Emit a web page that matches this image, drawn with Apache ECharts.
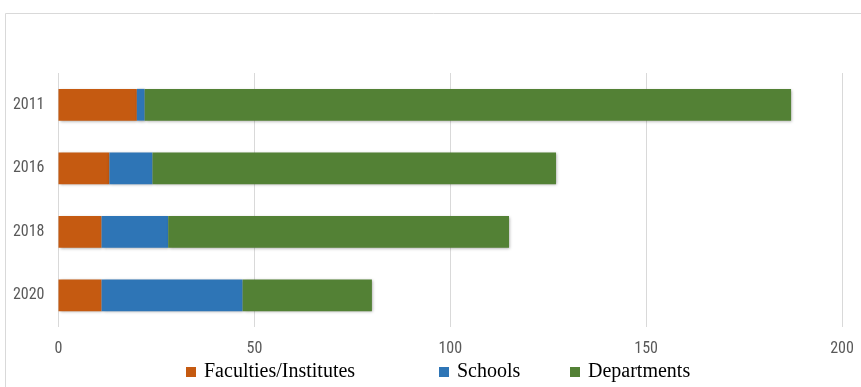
<!DOCTYPE html>
<html><head><meta charset="utf-8">
<script src="https://cdn.jsdelivr.net/npm/echarts@6/dist/echarts.min.js"></script>
<style>html,body{margin:0;padding:0;background:#fff}#c{width:861px;height:387px}</style>
</head><body><div id="c"></div>
<script>
const years = ['2011', '2016', '2018', '2020'];
const faculties = [20, 13, 11, 11];
const schools = [2, 11, 17, 36];
const departments = [165, 103, 87, 33];
const xTicks = [0, 50, 100, 150, 200];
const seriesNames = ['Faculties/Institutes', 'Schools', 'Departments'];
const colors = ['#C55A11', '#2E75B6', '#538135'];

const labelFont = "'Liberation Sans Narrow','Roboto Condensed','Liberation Sans',sans-serif";
const legendFont = "'Liberation Serif','Times New Roman',serif";
const chart = echarts.init(document.getElementById('c'));
const shadow = {shadowColor:'rgba(0,0,0,0.35)', shadowBlur:3, shadowOffsetX:1, shadowOffsetY:1};
const dataArr = [faculties, schools, departments];
const legendLefts = [186, 439, 570];
chart.setOption({
  animation:false,
  graphic:[{type:'rect', shape:{x:5.5, y:13.5, width:900, height:400}, style:{fill:'none', stroke:'#d9d9d9', lineWidth:1}, silent:true}],
  grid:{left:58.5, right:19, top:73, bottom:60, containLabel:false},
  legend: seriesNames.map((n,i)=>({
    data:[n], left:legendLefts[i], top:362, padding:0, itemWidth:10, itemHeight:10, itemGap:0,
    icon:'rect', textStyle:{fontFamily:legendFont, fontSize:20, color:'#000', padding:[0,0,0,3]}
  })),
  xAxis:{type:'value', min:xTicks[0], max:xTicks[xTicks.length-1], interval:50,
    axisLine:{show:false}, axisTick:{show:false},
    splitLine:{show:true, lineStyle:{color:'#d9d9d9', width:1}},
    axisLabel:{margin:14, color:'#595959', fontFamily:labelFont, fontSize:16}},
  yAxis:{type:'category', data:years, inverse:true,
    axisLine:{show:false}, axisTick:{show:false},
    axisLabel:{margin:14, color:'#595959', fontFamily:labelFont, fontSize:16}},
  series: seriesNames.map((n,i)=>({
    name:n, type:'bar', stack:'total', barCategoryGap:'50%',
    itemStyle:Object.assign({color:colors[i]}, shadow),
    data:dataArr[i]
  }))
});
</script></body></html>
